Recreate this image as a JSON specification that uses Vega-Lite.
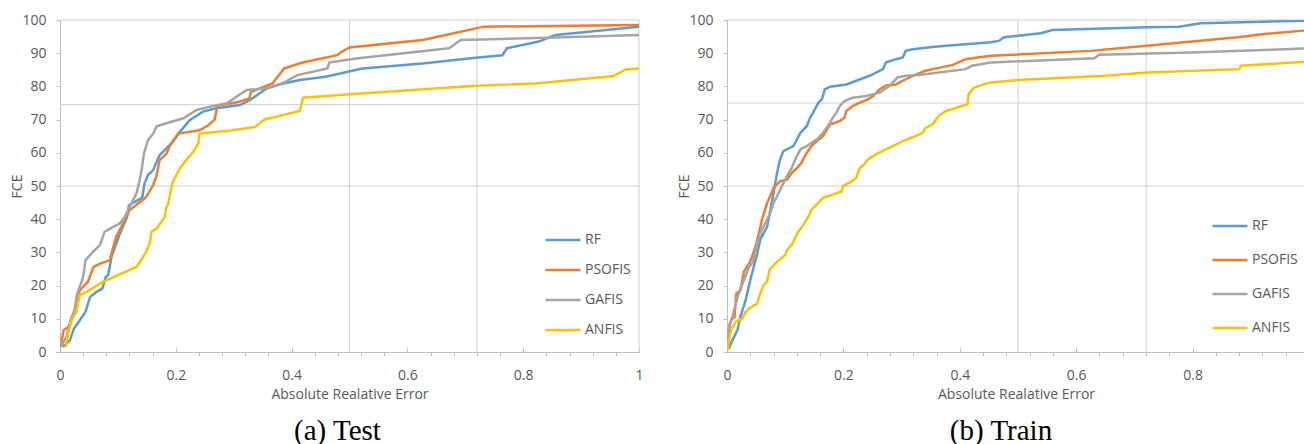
{
  "$schema": "https://vega.github.io/schema/vega-lite/v6.json",
  "padding": {"left": 10, "top": 13, "right": 0, "bottom": 0},
  "spacing": 33,
  "config": {
    "font": "Open Sans",
    "view": {"stroke": null},
    "axis": {
      "labelFont": "Open Sans", "labelFontSize": 14, "labelColor": "#595959",
      "titleFont": "Open Sans", "titleFontSize": 14, "titleColor": "#595959", "titleFontWeight": "normal",
      "domainColor": "#bfbfbf", "tickColor": "#bfbfbf", "grid": false
    },
    "axisY": {"tickSize": 4, "labelPadding": 10, "titlePadding": -3},
    "legend": {
      "symbolType": "stroke", "symbolSize": 1225, "symbolStrokeWidth": 2.5,
      "labelFont": "Open Sans", "labelFontSize": 14, "labelColor": "#595959",
      "labelOffset": 3, "padding": 0, "title": null
    },
    "title": {"font": "Liberation Serif", "fontSize": 29, "fontWeight": "normal", "color": "#000000"}
  },
  "datasets": {
    "test": [
      {"model":"RF","error":0.005,"fce":1.5},{"model":"RF","error":0.017,"fce":3.5},{"model":"RF","error":0.024,"fce":7.0},{"model":"RF","error":0.034,"fce":9.5},{"model":"RF","error":0.044,"fce":12.1},{"model":"RF","error":0.052,"fce":16.6},{"model":"RF","error":0.063,"fce":18.1},{"model":"RF","error":0.073,"fce":19.1},{"model":"RF","error":0.079,"fce":22.6},{"model":"RF","error":0.083,"fce":23.1},{"model":"RF","error":0.089,"fce":28.6},{"model":"RF","error":0.095,"fce":31.7},{"model":"RF","error":0.106,"fce":36.7},{"model":"RF","error":0.116,"fce":40.7},{"model":"RF","error":0.119,"fce":44.2},{"model":"RF","error":0.142,"fce":46.5},{"model":"RF","error":0.146,"fce":50.8},{"model":"RF","error":0.152,"fce":53.3},{"model":"RF","error":0.161,"fce":54.8},{"model":"RF","error":0.172,"fce":59.3},{"model":"RF","error":0.184,"fce":61.3},{"model":"RF","error":0.195,"fce":63.3},{"model":"RF","error":0.207,"fce":66.3},{"model":"RF","error":0.224,"fce":69.8},{"model":"RF","error":0.247,"fce":72.4},{"model":"RF","error":0.270,"fce":73.4},{"model":"RF","error":0.311,"fce":74.4},{"model":"RF","error":0.328,"fce":75.9},{"model":"RF","error":0.357,"fce":79.4},{"model":"RF","error":0.386,"fce":80.9},{"model":"RF","error":0.414,"fce":81.9},{"model":"RF","error":0.459,"fce":82.9},{"model":"RF","error":0.522,"fce":85.4},{"model":"RF","error":0.626,"fce":86.9},{"model":"RF","error":0.718,"fce":88.6},{"model":"RF","error":0.764,"fce":89.4},{"model":"RF","error":0.772,"fce":91.5},{"model":"RF","error":0.827,"fce":93.5},{"model":"RF","error":0.856,"fce":95.5},{"model":"RF","error":1.0,"fce":98.0},
      {"model":"PSOFIS","error":0.002,"fce":2.0},{"model":"PSOFIS","error":0.006,"fce":6.5},{"model":"PSOFIS","error":0.017,"fce":8.0},{"model":"PSOFIS","error":0.021,"fce":10.6},{"model":"PSOFIS","error":0.028,"fce":12.1},{"model":"PSOFIS","error":0.034,"fce":18.6},{"model":"PSOFIS","error":0.048,"fce":21.1},{"model":"PSOFIS","error":0.058,"fce":25.6},{"model":"PSOFIS","error":0.069,"fce":26.6},{"model":"PSOFIS","error":0.086,"fce":27.6},{"model":"PSOFIS","error":0.092,"fce":31.7},{"model":"PSOFIS","error":0.097,"fce":34.7},{"model":"PSOFIS","error":0.106,"fce":37.7},{"model":"PSOFIS","error":0.120,"fce":42.7},{"model":"PSOFIS","error":0.149,"fce":46.7},{"model":"PSOFIS","error":0.161,"fce":50.3},{"model":"PSOFIS","error":0.167,"fce":53.3},{"model":"PSOFIS","error":0.172,"fce":57.8},{"model":"PSOFIS","error":0.184,"fce":59.8},{"model":"PSOFIS","error":0.190,"fce":62.3},{"model":"PSOFIS","error":0.204,"fce":65.8},{"model":"PSOFIS","error":0.241,"fce":66.8},{"model":"PSOFIS","error":0.256,"fce":68.3},{"model":"PSOFIS","error":0.267,"fce":70.0},{"model":"PSOFIS","error":0.272,"fce":74.2},{"model":"PSOFIS","error":0.310,"fce":75.4},{"model":"PSOFIS","error":0.327,"fce":76.4},{"model":"PSOFIS","error":0.330,"fce":78.4},{"model":"PSOFIS","error":0.367,"fce":80.9},{"model":"PSOFIS","error":0.387,"fce":85.4},{"model":"PSOFIS","error":0.413,"fce":86.9},{"model":"PSOFIS","error":0.425,"fce":87.4},{"model":"PSOFIS","error":0.479,"fce":89.4},{"model":"PSOFIS","error":0.488,"fce":90.6},{"model":"PSOFIS","error":0.500,"fce":91.7},{"model":"PSOFIS","error":0.626,"fce":94.0},{"model":"PSOFIS","error":0.666,"fce":95.5},{"model":"PSOFIS","error":0.732,"fce":98.0},{"model":"PSOFIS","error":1.0,"fce":98.5},
      {"model":"GAFIS","error":0.001,"fce":1.5},{"model":"GAFIS","error":0.011,"fce":4.5},{"model":"GAFIS","error":0.018,"fce":9.5},{"model":"GAFIS","error":0.025,"fce":12.6},{"model":"GAFIS","error":0.029,"fce":17.1},{"model":"GAFIS","error":0.040,"fce":22.6},{"model":"GAFIS","error":0.044,"fce":27.6},{"model":"GAFIS","error":0.057,"fce":30.2},{"model":"GAFIS","error":0.069,"fce":32.2},{"model":"GAFIS","error":0.077,"fce":36.2},{"model":"GAFIS","error":0.092,"fce":37.7},{"model":"GAFIS","error":0.103,"fce":38.7},{"model":"GAFIS","error":0.112,"fce":40.7},{"model":"GAFIS","error":0.123,"fce":44.7},{"model":"GAFIS","error":0.132,"fce":47.7},{"model":"GAFIS","error":0.137,"fce":51.3},{"model":"GAFIS","error":0.141,"fce":54.8},{"model":"GAFIS","error":0.145,"fce":59.8},{"model":"GAFIS","error":0.152,"fce":63.8},{"model":"GAFIS","error":0.161,"fce":65.8},{"model":"GAFIS","error":0.167,"fce":68.0},{"model":"GAFIS","error":0.172,"fce":68.3},{"model":"GAFIS","error":0.213,"fce":70.4},{"model":"GAFIS","error":0.236,"fce":72.9},{"model":"GAFIS","error":0.259,"fce":73.9},{"model":"GAFIS","error":0.288,"fce":74.9},{"model":"GAFIS","error":0.322,"fce":78.9},{"model":"GAFIS","error":0.357,"fce":79.4},{"model":"GAFIS","error":0.386,"fce":81.1},{"model":"GAFIS","error":0.410,"fce":83.4},{"model":"GAFIS","error":0.462,"fce":85.4},{"model":"GAFIS","error":0.465,"fce":87.2},{"model":"GAFIS","error":0.511,"fce":88.4},{"model":"GAFIS","error":0.672,"fce":91.5},{"model":"GAFIS","error":0.692,"fce":94.0},{"model":"GAFIS","error":0.856,"fce":94.7},{"model":"GAFIS","error":1.0,"fce":95.5},
      {"model":"ANFIS","error":0.010,"fce":1.5},{"model":"ANFIS","error":0.014,"fce":5.5},{"model":"ANFIS","error":0.020,"fce":9.5},{"model":"ANFIS","error":0.028,"fce":12.1},{"model":"ANFIS","error":0.034,"fce":17.1},{"model":"ANFIS","error":0.046,"fce":18.1},{"model":"ANFIS","error":0.074,"fce":21.1},{"model":"ANFIS","error":0.132,"fce":25.6},{"model":"ANFIS","error":0.138,"fce":27.1},{"model":"ANFIS","error":0.149,"fce":30.2},{"model":"ANFIS","error":0.155,"fce":32.7},{"model":"ANFIS","error":0.158,"fce":36.2},{"model":"ANFIS","error":0.167,"fce":37.2},{"model":"ANFIS","error":0.181,"fce":40.7},{"model":"ANFIS","error":0.183,"fce":43.2},{"model":"ANFIS","error":0.187,"fce":44.7},{"model":"ANFIS","error":0.191,"fce":48.2},{"model":"ANFIS","error":0.195,"fce":51.3},{"model":"ANFIS","error":0.207,"fce":55.3},{"model":"ANFIS","error":0.218,"fce":57.8},{"model":"ANFIS","error":0.230,"fce":60.3},{"model":"ANFIS","error":0.239,"fce":62.8},{"model":"ANFIS","error":0.241,"fce":65.8},{"model":"ANFIS","error":0.299,"fce":66.8},{"model":"ANFIS","error":0.337,"fce":67.8},{"model":"ANFIS","error":0.354,"fce":70.1},{"model":"ANFIS","error":0.374,"fce":70.9},{"model":"ANFIS","error":0.414,"fce":72.6},{"model":"ANFIS","error":0.420,"fce":76.6},{"model":"ANFIS","error":0.500,"fce":77.6},{"model":"ANFIS","error":0.718,"fce":80.2},{"model":"ANFIS","error":0.821,"fce":80.9},{"model":"ANFIS","error":0.956,"fce":83.1},{"model":"ANFIS","error":0.977,"fce":85.1},{"model":"ANFIS","error":1.0,"fce":85.4}
    ],
    "train": [
      {"model":"RF","error":0.003,"fce":1.0},{"model":"RF","error":0.009,"fce":3.5},{"model":"RF","error":0.018,"fce":6.6},{"model":"RF","error":0.023,"fce":10.6},{"model":"RF","error":0.032,"fce":15.6},{"model":"RF","error":0.040,"fce":21.7},{"model":"RF","error":0.052,"fce":29.7},{"model":"RF","error":0.057,"fce":33.8},{"model":"RF","error":0.069,"fce":37.8},{"model":"RF","error":0.080,"fce":47.9},{"model":"RF","error":0.086,"fce":53.9},{"model":"RF","error":0.091,"fce":58.0},{"model":"RF","error":0.097,"fce":60.5},{"model":"RF","error":0.114,"fce":62.0},{"model":"RF","error":0.120,"fce":64.0},{"model":"RF","error":0.126,"fce":66.0},{"model":"RF","error":0.137,"fce":68.0},{"model":"RF","error":0.143,"fce":70.6},{"model":"RF","error":0.148,"fce":72.1},{"model":"RF","error":0.157,"fce":75.1},{"model":"RF","error":0.163,"fce":76.1},{"model":"RF","error":0.168,"fce":79.1},{"model":"RF","error":0.177,"fce":79.9},{"model":"RF","error":0.205,"fce":80.6},{"model":"RF","error":0.222,"fce":81.7},{"model":"RF","error":0.245,"fce":83.2},{"model":"RF","error":0.268,"fce":85.2},{"model":"RF","error":0.273,"fce":87.2},{"model":"RF","error":0.290,"fce":88.2},{"model":"RF","error":0.302,"fce":88.7},{"model":"RF","error":0.307,"fce":90.7},{"model":"RF","error":0.319,"fce":91.2},{"model":"RF","error":0.353,"fce":91.9},{"model":"RF","error":0.387,"fce":92.4},{"model":"RF","error":0.427,"fce":92.9},{"model":"RF","error":0.453,"fce":93.3},{"model":"RF","error":0.467,"fce":93.7},{"model":"RF","error":0.476,"fce":94.8},{"model":"RF","error":0.539,"fce":96.0},{"model":"RF","error":0.559,"fce":97.0},{"model":"RF","error":0.722,"fce":97.8},{"model":"RF","error":0.777,"fce":98.0},{"model":"RF","error":0.814,"fce":99.0},{"model":"RF","error":0.991,"fce":99.8},{"model":"RF","error":1.0,"fce":99.9},
      {"model":"PSOFIS","error":0.001,"fce":1.5},{"model":"PSOFIS","error":0.003,"fce":6.6},{"model":"PSOFIS","error":0.007,"fce":9.6},{"model":"PSOFIS","error":0.013,"fce":10.6},{"model":"PSOFIS","error":0.016,"fce":17.6},{"model":"PSOFIS","error":0.023,"fce":18.6},{"model":"PSOFIS","error":0.029,"fce":24.2},{"model":"PSOFIS","error":0.038,"fce":26.7},{"model":"PSOFIS","error":0.043,"fce":28.7},{"model":"PSOFIS","error":0.049,"fce":31.8},{"model":"PSOFIS","error":0.055,"fce":35.8},{"model":"PSOFIS","error":0.060,"fce":39.8},{"model":"PSOFIS","error":0.069,"fce":44.9},{"model":"PSOFIS","error":0.074,"fce":46.9},{"model":"PSOFIS","error":0.080,"fce":49.4},{"model":"PSOFIS","error":0.091,"fce":51.4},{"model":"PSOFIS","error":0.103,"fce":51.9},{"model":"PSOFIS","error":0.111,"fce":53.9},{"model":"PSOFIS","error":0.120,"fce":55.4},{"model":"PSOFIS","error":0.128,"fce":57.0},{"model":"PSOFIS","error":0.131,"fce":58.0},{"model":"PSOFIS","error":0.137,"fce":60.0},{"model":"PSOFIS","error":0.145,"fce":62.0},{"model":"PSOFIS","error":0.151,"fce":63.0},{"model":"PSOFIS","error":0.165,"fce":65.0},{"model":"PSOFIS","error":0.177,"fce":68.5},{"model":"PSOFIS","error":0.194,"fce":69.6},{"model":"PSOFIS","error":0.202,"fce":70.6},{"model":"PSOFIS","error":0.205,"fce":72.6},{"model":"PSOFIS","error":0.216,"fce":74.1},{"model":"PSOFIS","error":0.228,"fce":75.1},{"model":"PSOFIS","error":0.242,"fce":76.1},{"model":"PSOFIS","error":0.251,"fce":77.1},{"model":"PSOFIS","error":0.262,"fce":79.1},{"model":"PSOFIS","error":0.273,"fce":80.3},{"model":"PSOFIS","error":0.290,"fce":80.6},{"model":"PSOFIS","error":0.302,"fce":81.7},{"model":"PSOFIS","error":0.319,"fce":83.2},{"model":"PSOFIS","error":0.341,"fce":84.7},{"model":"PSOFIS","error":0.353,"fce":85.2},{"model":"PSOFIS","error":0.387,"fce":86.4},{"model":"PSOFIS","error":0.410,"fce":88.2},{"model":"PSOFIS","error":0.453,"fce":89.2},{"model":"PSOFIS","error":0.625,"fce":90.7},{"model":"PSOFIS","error":0.716,"fce":92.2},{"model":"PSOFIS","error":0.877,"fce":94.8},{"model":"PSOFIS","error":0.923,"fce":95.8},{"model":"PSOFIS","error":0.991,"fce":96.8},{"model":"PSOFIS","error":1.0,"fce":96.9},
      {"model":"GAFIS","error":0.001,"fce":1.5},{"model":"GAFIS","error":0.003,"fce":7.6},{"model":"GAFIS","error":0.009,"fce":10.6},{"model":"GAFIS","error":0.015,"fce":14.6},{"model":"GAFIS","error":0.020,"fce":17.6},{"model":"GAFIS","error":0.029,"fce":21.7},{"model":"GAFIS","error":0.038,"fce":25.7},{"model":"GAFIS","error":0.043,"fce":26.7},{"model":"GAFIS","error":0.049,"fce":29.7},{"model":"GAFIS","error":0.052,"fce":32.8},{"model":"GAFIS","error":0.057,"fce":35.8},{"model":"GAFIS","error":0.063,"fce":37.8},{"model":"GAFIS","error":0.074,"fce":41.8},{"model":"GAFIS","error":0.080,"fce":44.9},{"model":"GAFIS","error":0.086,"fce":46.9},{"model":"GAFIS","error":0.094,"fce":49.9},{"model":"GAFIS","error":0.103,"fce":52.9},{"model":"GAFIS","error":0.111,"fce":55.4},{"model":"GAFIS","error":0.120,"fce":59.0},{"model":"GAFIS","error":0.126,"fce":61.0},{"model":"GAFIS","error":0.137,"fce":62.0},{"model":"GAFIS","error":0.154,"fce":64.0},{"model":"GAFIS","error":0.165,"fce":66.0},{"model":"GAFIS","error":0.177,"fce":69.1},{"model":"GAFIS","error":0.182,"fce":70.6},{"model":"GAFIS","error":0.188,"fce":72.1},{"model":"GAFIS","error":0.194,"fce":74.1},{"model":"GAFIS","error":0.202,"fce":75.6},{"model":"GAFIS","error":0.216,"fce":76.6},{"model":"GAFIS","error":0.239,"fce":77.1},{"model":"GAFIS","error":0.262,"fce":78.1},{"model":"GAFIS","error":0.279,"fce":80.1},{"model":"GAFIS","error":0.293,"fce":82.7},{"model":"GAFIS","error":0.307,"fce":83.2},{"model":"GAFIS","error":0.330,"fce":83.4},{"model":"GAFIS","error":0.364,"fce":84.2},{"model":"GAFIS","error":0.410,"fce":85.2},{"model":"GAFIS","error":0.421,"fce":86.2},{"model":"GAFIS","error":0.453,"fce":87.2},{"model":"GAFIS","error":0.631,"fce":88.5},{"model":"GAFIS","error":0.639,"fce":89.5},{"model":"GAFIS","error":0.797,"fce":90.2},{"model":"GAFIS","error":0.991,"fce":91.4},{"model":"GAFIS","error":1.0,"fce":91.4},
      {"model":"ANFIS","error":0.001,"fce":0.5},{"model":"ANFIS","error":0.003,"fce":3.5},{"model":"ANFIS","error":0.007,"fce":6.6},{"model":"ANFIS","error":0.015,"fce":9.1},{"model":"ANFIS","error":0.026,"fce":10.1},{"model":"ANFIS","error":0.032,"fce":12.1},{"model":"ANFIS","error":0.038,"fce":13.1},{"model":"ANFIS","error":0.052,"fce":14.6},{"model":"ANFIS","error":0.057,"fce":17.6},{"model":"ANFIS","error":0.063,"fce":20.2},{"model":"ANFIS","error":0.069,"fce":21.2},{"model":"ANFIS","error":0.073,"fce":24.7},{"model":"ANFIS","error":0.083,"fce":26.7},{"model":"ANFIS","error":0.100,"fce":29.2},{"model":"ANFIS","error":0.103,"fce":30.7},{"model":"ANFIS","error":0.111,"fce":32.3},{"model":"ANFIS","error":0.117,"fce":34.3},{"model":"ANFIS","error":0.123,"fce":36.3},{"model":"ANFIS","error":0.131,"fce":38.3},{"model":"ANFIS","error":0.140,"fce":40.8},{"model":"ANFIS","error":0.145,"fce":42.8},{"model":"ANFIS","error":0.154,"fce":44.4},{"model":"ANFIS","error":0.165,"fce":46.4},{"model":"ANFIS","error":0.182,"fce":47.4},{"model":"ANFIS","error":0.197,"fce":48.4},{"model":"ANFIS","error":0.199,"fce":49.9},{"model":"ANFIS","error":0.214,"fce":51.4},{"model":"ANFIS","error":0.222,"fce":52.4},{"model":"ANFIS","error":0.228,"fce":55.4},{"model":"ANFIS","error":0.236,"fce":56.5},{"model":"ANFIS","error":0.242,"fce":58.0},{"model":"ANFIS","error":0.256,"fce":59.5},{"model":"ANFIS","error":0.273,"fce":61.0},{"model":"ANFIS","error":0.285,"fce":62.0},{"model":"ANFIS","error":0.302,"fce":63.5},{"model":"ANFIS","error":0.324,"fce":65.0},{"model":"ANFIS","error":0.336,"fce":66.0},{"model":"ANFIS","error":0.341,"fce":67.5},{"model":"ANFIS","error":0.353,"fce":68.5},{"model":"ANFIS","error":0.364,"fce":71.1},{"model":"ANFIS","error":0.376,"fce":72.6},{"model":"ANFIS","error":0.404,"fce":74.1},{"model":"ANFIS","error":0.413,"fce":74.6},{"model":"ANFIS","error":0.415,"fce":77.6},{"model":"ANFIS","error":0.424,"fce":79.6},{"model":"ANFIS","error":0.441,"fce":80.6},{"model":"ANFIS","error":0.453,"fce":81.2},{"model":"ANFIS","error":0.499,"fce":81.9},{"model":"ANFIS","error":0.648,"fce":83.2},{"model":"ANFIS","error":0.722,"fce":84.2},{"model":"ANFIS","error":0.880,"fce":85.2},{"model":"ANFIS","error":0.883,"fce":86.2},{"model":"ANFIS","error":0.991,"fce":87.4},{"model":"ANFIS","error":1.0,"fce":87.5}
    ]
  },
  "resolve": {"scale": {"color": "independent"}},
  "hconcat": [
    {
      "width": 579, "height": 332,
      "title": {"text": "(a) Test", "orient": "bottom", "offset": 16, "dx": -12},
      "resolve": {"axis": {"x": "independent"}},
      "layer": [
        {
          "data": {"values": [{"g": 0.5}, {"g": 0.72}, {"g": 1.0}]},
          "mark": {"type": "rule", "color": "#d0d0d0", "strokeWidth": 1},
          "encoding": {
            "x": {"field": "g", "type": "quantitative", "scale": {"domain": [0, 1], "nice": false, "zero": true},
              "axis": {"orient": "bottom", "values": [0, 0.2, 0.4, 0.6, 0.8, 1], "format": "~g", "tickSize": -4, "labelPadding": 20, "labelFlush": false, "labelOverlap": false, "title": "Absolute Realative Error", "titlePadding": 5}}
          }
        },
        {
          "data": {"values": [{"h": 50}, {"h": 74.5}, {"h": 100}]},
          "mark": {"type": "rule", "color": "#d0d0d0", "strokeWidth": 1},
          "encoding": {
            "y": {"field": "h", "type": "quantitative", "scale": {"domain": [0, 100], "nice": false},
              "axis": {"values": [0, 10, 20, 30, 40, 50, 60, 70, 80, 90, 100], "title": "FCE"}}
          }
        },
        {
          "data": {"name": "test"},
          "mark": {"type": "line", "strokeWidth": 2.5, "clip": true},
          "encoding": {
            "x": {"field": "error", "type": "quantitative",
              "axis": {"orient": "bottom", "values": [0.04, 0.08, 0.12, 0.16, 0.24, 0.28, 0.32, 0.36, 0.44, 0.48, 0.52, 0.56, 0.64, 0.68, 0.72, 0.76, 0.84, 0.88, 0.92, 0.96], "labels": false, "domain": false, "tickSize": 4, "title": null}},
            "y": {"field": "fce", "type": "quantitative",
              "axis": {"values": [0, 10, 20, 30, 40, 50, 60, 70, 80, 90, 100], "title": "FCE"}},
            "color": {"field": "model", "type": "nominal",
              "scale": {"domain": ["RF", "PSOFIS", "GAFIS", "ANFIS"], "range": ["#5b9bd5", "#ed7d31", "#a5a5a5", "#ffc000"]},
              "legend": {"orient": "bottom-right", "offset": 8, "clipHeight": 28, "rowPadding": 2}}
          }
        }
      ]
    },
    {
      "width": 578, "height": 332,
      "title": {"text": "(b) Train", "orient": "bottom", "offset": 16, "dx": -15},
      "resolve": {"axis": {"x": "independent"}},
      "layer": [
        {
          "data": {"values": [{"g": 0.5}, {"g": 0.72}]},
          "mark": {"type": "rule", "color": "#d0d0d0", "strokeWidth": 1},
          "encoding": {
            "x": {"field": "g", "type": "quantitative", "scale": {"domain": [0, 0.9931], "nice": false, "zero": true},
              "axis": {"orient": "bottom", "values": [0, 0.2, 0.4, 0.6, 0.8], "format": "~g", "tickSize": -4, "labelPadding": 20, "labelFlush": false, "labelOverlap": false, "title": "Absolute Realative Error", "titlePadding": 5}}
          }
        },
        {
          "data": {"values": [{"h": 50}, {"h": 75}, {"h": 100}]},
          "mark": {"type": "rule", "color": "#d0d0d0", "strokeWidth": 1},
          "encoding": {
            "y": {"field": "h", "type": "quantitative", "scale": {"domain": [0, 100], "nice": false},
              "axis": {"values": [0, 10, 20, 30, 40, 50, 60, 70, 80, 90, 100], "title": "FCE"}}
          }
        },
        {
          "data": {"name": "train"},
          "mark": {"type": "line", "strokeWidth": 2.5, "clip": true},
          "encoding": {
            "x": {"field": "error", "type": "quantitative",
              "axis": {"orient": "bottom", "values": [0.04, 0.08, 0.12, 0.16, 0.24, 0.28, 0.32, 0.36, 0.44, 0.48, 0.52, 0.56, 0.64, 0.68, 0.72, 0.76, 0.84, 0.88, 0.92, 0.96], "labels": false, "domain": false, "tickSize": 4, "title": null}},
            "y": {"field": "fce", "type": "quantitative",
              "axis": {"values": [0, 10, 20, 30, 40, 50, 60, 70, 80, 90, 100], "title": "FCE"}},
            "color": {"field": "model", "type": "nominal",
              "scale": {"domain": ["RF", "PSOFIS", "GAFIS", "ANFIS"], "range": ["#5b9bd5", "#ed7d31", "#a5a5a5", "#ffc000"]},
              "legend": {"orient": "bottom-right", "offset": 7, "clipHeight": 34, "rowPadding": 0}}
          }
        }
      ]
    }
  ]
}
